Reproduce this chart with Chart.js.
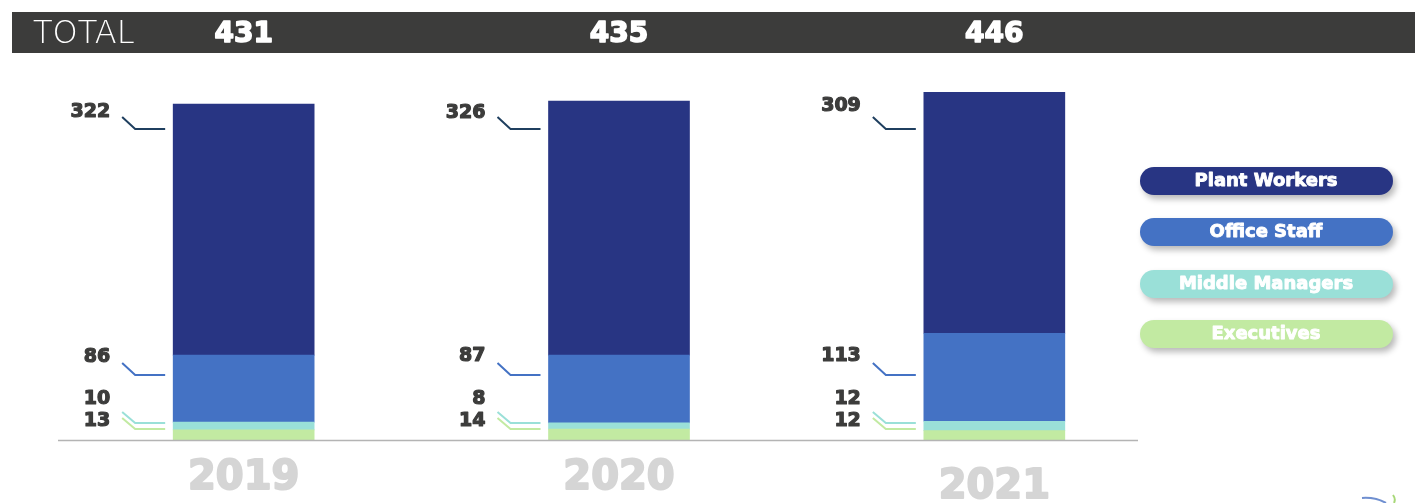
<!DOCTYPE html>
<html><head><meta charset="utf-8">
<script src="https://cdn.jsdelivr.net/npm/chart.js@4.4.1/dist/chart.umd.min.js"></script>
<style>html,body{margin:0;padding:0;background:#fff;}canvas{display:block;}</style>
</head><body>
<canvas id="c" width="1415" height="503"></canvas>
<script>
const years = ['2019', '2020', '2021'];
const executives = [13, 14, 12];
const middleManagers = [10, 8, 12];
const officeStaff = [86, 87, 113];
const plantWorkers = [322, 326, 309];
const seriesNames = ['Plant Workers', 'Office Staff', 'Middle Managers', 'Executives'];

const C_PLANT = '#283583', C_OFFICE = '#4472c4', C_MID = '#9ae0d8', C_EXEC = '#c2eaa2';
const FONT = '"DejaVu Sans", sans-serif';

function heavyText(ctx, txt, x, y, color, w) {
  ctx.fillStyle = color;
  ctx.strokeStyle = color;
  ctx.lineWidth = w;
  ctx.lineJoin = 'round';
  ctx.strokeText(txt, x, y);
  ctx.fillText(txt, x, y);
}

const decor = {
  id: 'decor',
  beforeDraw(chart) {
    const ctx = chart.ctx;
    ctx.save();
    ctx.fillStyle = '#fff';
    ctx.fillRect(0, 0, chart.width, chart.height);
    ctx.fillStyle = '#3c3c3b';
    ctx.fillRect(12, 12, chart.width - 12, 41);
    ctx.fillStyle = '#fff';
    ctx.textBaseline = 'middle';
    ctx.textAlign = 'left';
    ctx.font = '200 32px ' + FONT;
    ctx.fillText('TOTAL', 33, 35);
    ctx.restore();
  },
  afterDatasetsDraw(chart) {
    const ctx = chart.ctx;
    const meta0 = chart.getDatasetMeta(0);
    ctx.save();
    const yb = chart.scales.y.getPixelForValue(0);
    ctx.strokeStyle = '#b4b4b4';
    ctx.lineWidth = 1.5;
    ctx.beginPath(); ctx.moveTo(58, yb + 0.5); ctx.lineTo(1138, yb + 0.5); ctx.stroke();

    ctx.textAlign = 'center';
    ctx.textBaseline = 'middle';
    ctx.font = 'bold 28px ' + FONT;
    years.forEach((y, i) => {
      const total = executives[i] + middleManagers[i] + officeStaff[i] + plantWorkers[i];
      heavyText(ctx, String(total), meta0.data[i].x, 35, '#fff', 1.6);
    });

    ctx.font = 'bold 40px ' + FONT;
    const yearY = [479, 479, 488];
    years.forEach((y, i) => {
      heavyText(ctx, y, meta0.data[i].x, yearY[i], '#d5d5d5', 2);
    });

    ctx.font = 'bold 19px ' + FONT;
    ctx.textAlign = 'right';
    const rows = [
      {vals: plantWorkers, color: '#1f3f5f', ty: [112, 113, 106], y0: 117, y1: 129},
      {vals: officeStaff, color: C_OFFICE, ty: [357, 356, 356], y0: 363, y1: 375},
      {vals: middleManagers, color: C_MID, ty: [399, 399, 399], y0: 412, y1: 423},
      {vals: executives, color: C_EXEC, ty: [421, 421, 421], y0: 418, y1: 429}
    ];
    years.forEach((y, i) => {
      const bar = meta0.data[i];
      const left = bar.x - bar.width / 2;
      rows.forEach(r => {
        heavyText(ctx, String(r.vals[i]), left - 63, r.ty[i], '#3c3c3b', 1.2);
        ctx.strokeStyle = r.color;
        ctx.lineWidth = 2;
        ctx.lineJoin = 'miter';
        ctx.beginPath();
        ctx.moveTo(left - 51, r.y0);
        ctx.lineTo(left - 38, r.y1);
        ctx.lineTo(left - 8, r.y1);
        ctx.stroke();
      });
    });

    const colors = [C_PLANT, C_OFFICE, C_MID, C_EXEC];
    const pillY = [167, 218, 270, 320];
    seriesNames.forEach((n, i) => {
      ctx.save();
      ctx.shadowColor = 'rgba(0,0,0,0.28)';
      ctx.shadowBlur = 6;
      ctx.shadowOffsetX = 3;
      ctx.shadowOffsetY = 4;
      ctx.fillStyle = colors[i];
      ctx.beginPath();
      ctx.roundRect(1140, pillY[i], 253, 28, 14);
      ctx.fill();
      ctx.restore();
      ctx.textAlign = 'center';
      ctx.font = 'bold 18px ' + FONT;
      heavyText(ctx, n, 1266, pillY[i] + 14, '#fff', 0.9);
    });

    ctx.lineWidth = 2;
    ctx.strokeStyle = '#6f8fd0';
    ctx.beginPath(); ctx.moveTo(1362, 498); ctx.quadraticCurveTo(1375, 497, 1386, 503); ctx.stroke();
    ctx.strokeStyle = '#a8d878';
    ctx.beginPath(); ctx.moveTo(1393, 495); ctx.quadraticCurveTo(1396, 499, 1394, 503); ctx.stroke();
    ctx.restore();
  }
};

new Chart(document.getElementById('c'), {
  type: 'bar',
  data: {
    labels: years,
    datasets: [
      {label: seriesNames[3], data: executives, backgroundColor: C_EXEC},
      {label: seriesNames[2], data: middleManagers, backgroundColor: C_MID},
      {label: seriesNames[1], data: officeStaff, backgroundColor: C_OFFICE},
      {label: seriesNames[0], data: plantWorkers, backgroundColor: C_PLANT}
    ]
  },
  options: {
    responsive: false,
    animation: false,
    devicePixelRatio: 1,
    layout: {padding: {left: 56, right: 233, top: 62, bottom: 63}},
    datasets: {bar: {barThickness: 141, borderWidth: 0}},
    scales: {
      x: {stacked: true, display: false, grid: {display: false}},
      y: {stacked: true, display: false, min: 0, max: 485, grid: {display: false}}
    },
    plugins: {legend: {display: false}, tooltip: {enabled: false}}
  },
  plugins: [decor]
});
</script>
</body></html>
